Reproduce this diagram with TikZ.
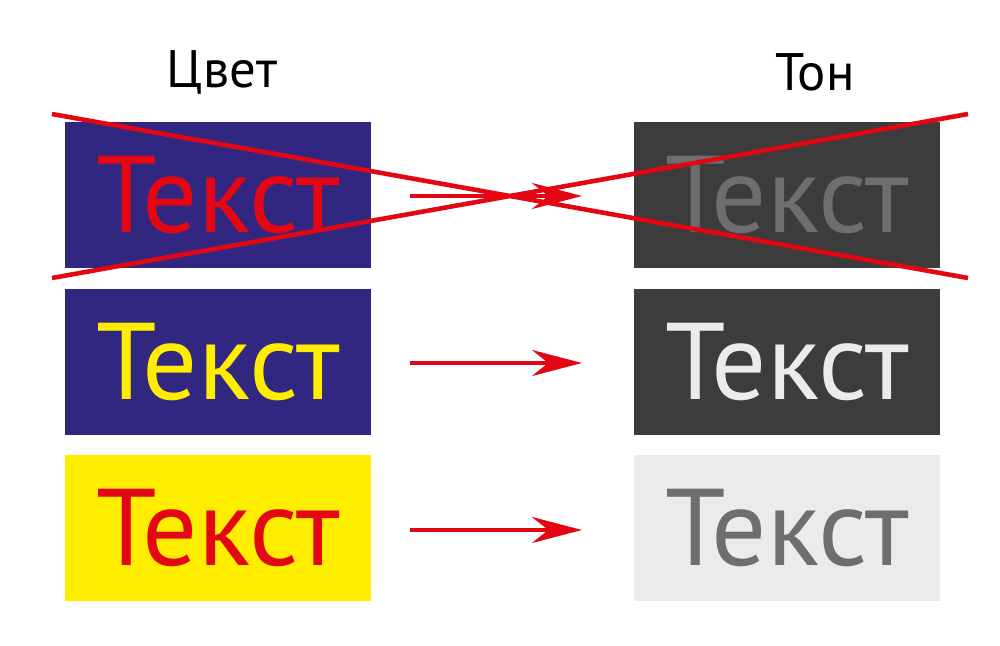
\documentclass[tikz,border=0pt]{standalone}
\usepackage{fontspec}
\setmainfont{PT Sans}
\usetikzlibrary{arrows.meta}
\definecolor{navy}{RGB}{49,38,128}
\definecolor{redtxt}{RGB}{227,6,19}
\definecolor{yel}{RGB}{255,237,0}
\definecolor{dark}{RGB}{60,60,60}
\definecolor{light}{RGB}{235,235,235}
\definecolor{midgray}{RGB}{110,110,110}
\begin{document}
\begin{tikzpicture}[x=0.01cm,y=-0.01cm,
    box/.style={minimum width=3.05cm, minimum height=1.46cm, inner sep=0pt,
      font=\fontsize{31}{31}\selectfont},
    head/.style={font=\fontsize{15}{15}\selectfont},
    conv/.style={draw=redtxt, line width=1.2pt, -{Stealth[length=0.5cm,width=0.26cm]}}]
    \useasboundingbox (0,0) rectangle (1000,645);
    \node[head] (c) at (222,72) {Цвет};
    \node[head] (t) at (815,72) {Тон};

    \node[box, fill=navy, text=redtxt] (l1) at (218,195) {Текст};
    \node[box, fill=navy, text=yel] (l2) at (218,362) {Текст};
    \node[box, fill=yel, text=redtxt] (l3) at (218,528) {Текст};
    \node[box, fill=dark, text=midgray] (r1) at (787,195) {Текст};
    \node[box, fill=dark, text=light] (r2) at (787,362) {Текст};
    \node[box, fill=light, text=midgray] (r3) at (787,528) {Текст};

    \coordinate (a1) at (410,196);
    \coordinate (b1) at (582,196);
    \coordinate (a2) at (410,363);
    \coordinate (b2) at (582,363);
    \coordinate (a3) at (410,530);
    \coordinate (b3) at (582,530);
    \draw[conv] (a1) -- (b1);
    \draw[conv] (a2) -- (b2);
    \draw[conv] (a3) -- (b3);

    % cross-out
    \coordinate (p1) at (52,114);
    \coordinate (p2) at (968,278);
    \coordinate (p3) at (52,278);
    \coordinate (p4) at (968,114);
    \draw[redtxt, line width=1.3pt] (p1) -- (p2);
    \draw[redtxt, line width=1.3pt] (p3) -- (p4);
\end{tikzpicture}
\end{document}
